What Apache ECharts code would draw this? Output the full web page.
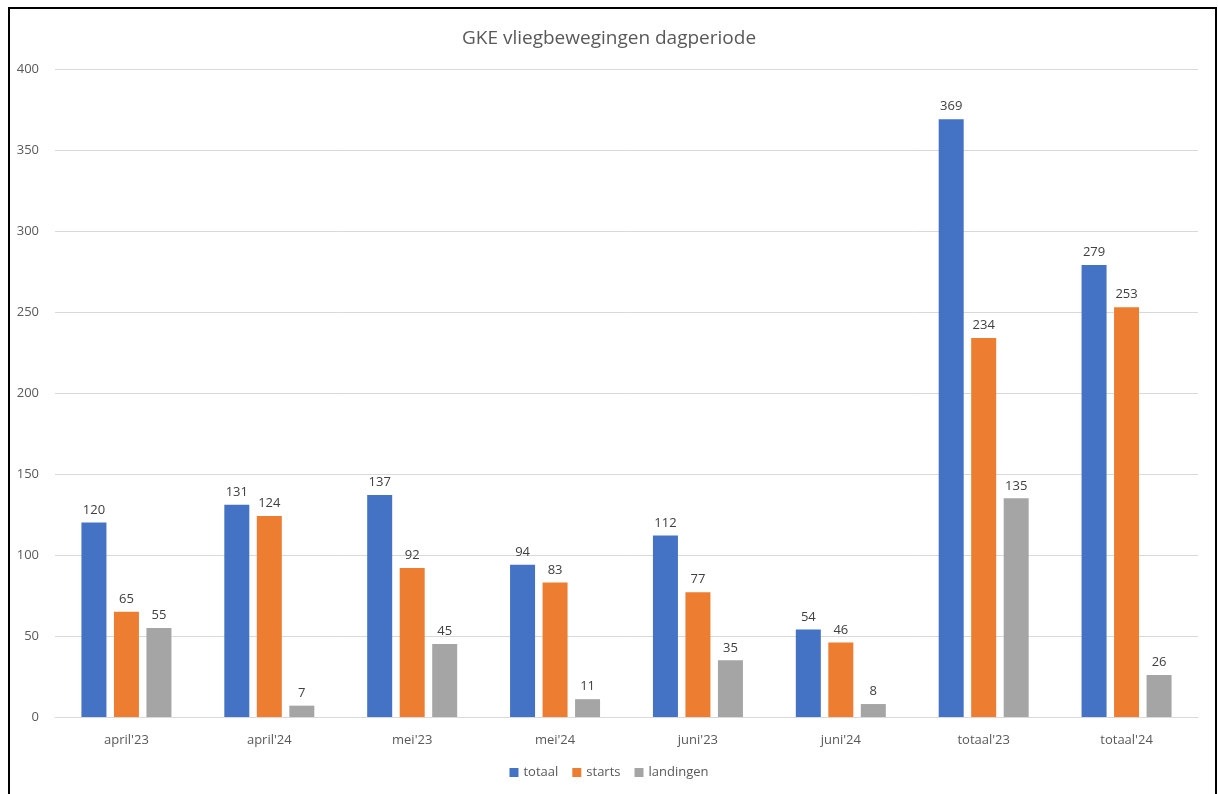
<!DOCTYPE html>
<html><head><meta charset="utf-8">
<script src="https://cdn.jsdelivr.net/npm/echarts@6/dist/echarts.min.js"></script>
<style>html,body{margin:0;padding:0;background:#fff;}#c{width:1218px;height:794px;}</style>
</head><body><div id="c"></div>
<script>
const categories = ["april'23","april'24","mei'23","mei'24","juni'23","juni'24","totaal'23","totaal'24"];
const totaal = [120,131,137,94,112,54,369,279];
const starts = [65,124,92,83,77,46,234,253];
const landingen = [55,7,45,11,35,8,135,26];
const yTicks = {min:0,max:400,interval:50};

const chart = echarts.init(document.getElementById('c'), null, {renderer:'canvas'});
const font = "'Open Sans', 'Noto Sans', sans-serif";
const lbl = {show:true, position:'top', distance:6, color:'#404040', fontSize:13, fontFamily:font};
function s(name, data, color){
  return {name, type:'bar', data, barWidth:25, barGap:'30%', itemStyle:{color}, label:lbl};
}
chart.setOption({
  animation:false,
  textStyle:{fontFamily:font},
  title:{text:'GKE vliegbewegingen dagperiode', left:'center', top:24, textStyle:{fontSize:19, fontWeight:'normal', color:'#595959', fontFamily:font}},
  legend:{bottom:10, left:'center', itemWidth:9, itemHeight:9, itemGap:14, icon:'rect', textStyle:{fontSize:13, color:'#595959', fontFamily:font}, data:['totaal','starts','landingen']},
  grid:{left:55, right:20, top:69, bottom:77, containLabel:false},
  xAxis:{type:'category', data:categories, axisLine:{lineStyle:{color:'#d9d9d9'}}, axisTick:{show:false}, axisLabel:{color:'#595959', fontSize:13, margin:17, fontFamily:font}},
  yAxis:{type:'value', min:yTicks.min, max:yTicks.max, interval:yTicks.interval, axisLine:{show:false}, axisTick:{show:false}, splitLine:{lineStyle:{color:'#d9d9d9'}}, axisLabel:{color:'#595959', fontSize:13, margin:16, fontFamily:font}},
  graphic:[{type:'polyline', shape:{points:[[9,800],[9,8],[1216,8],[1216,800]]}, style:{stroke:'#000', lineWidth:2, fill:null}}],
  series:[s('totaal',totaal,'#4472c4'), s('starts',starts,'#ed7d31'), s('landingen',landingen,'#a5a5a5')]
});
</script></body></html>
